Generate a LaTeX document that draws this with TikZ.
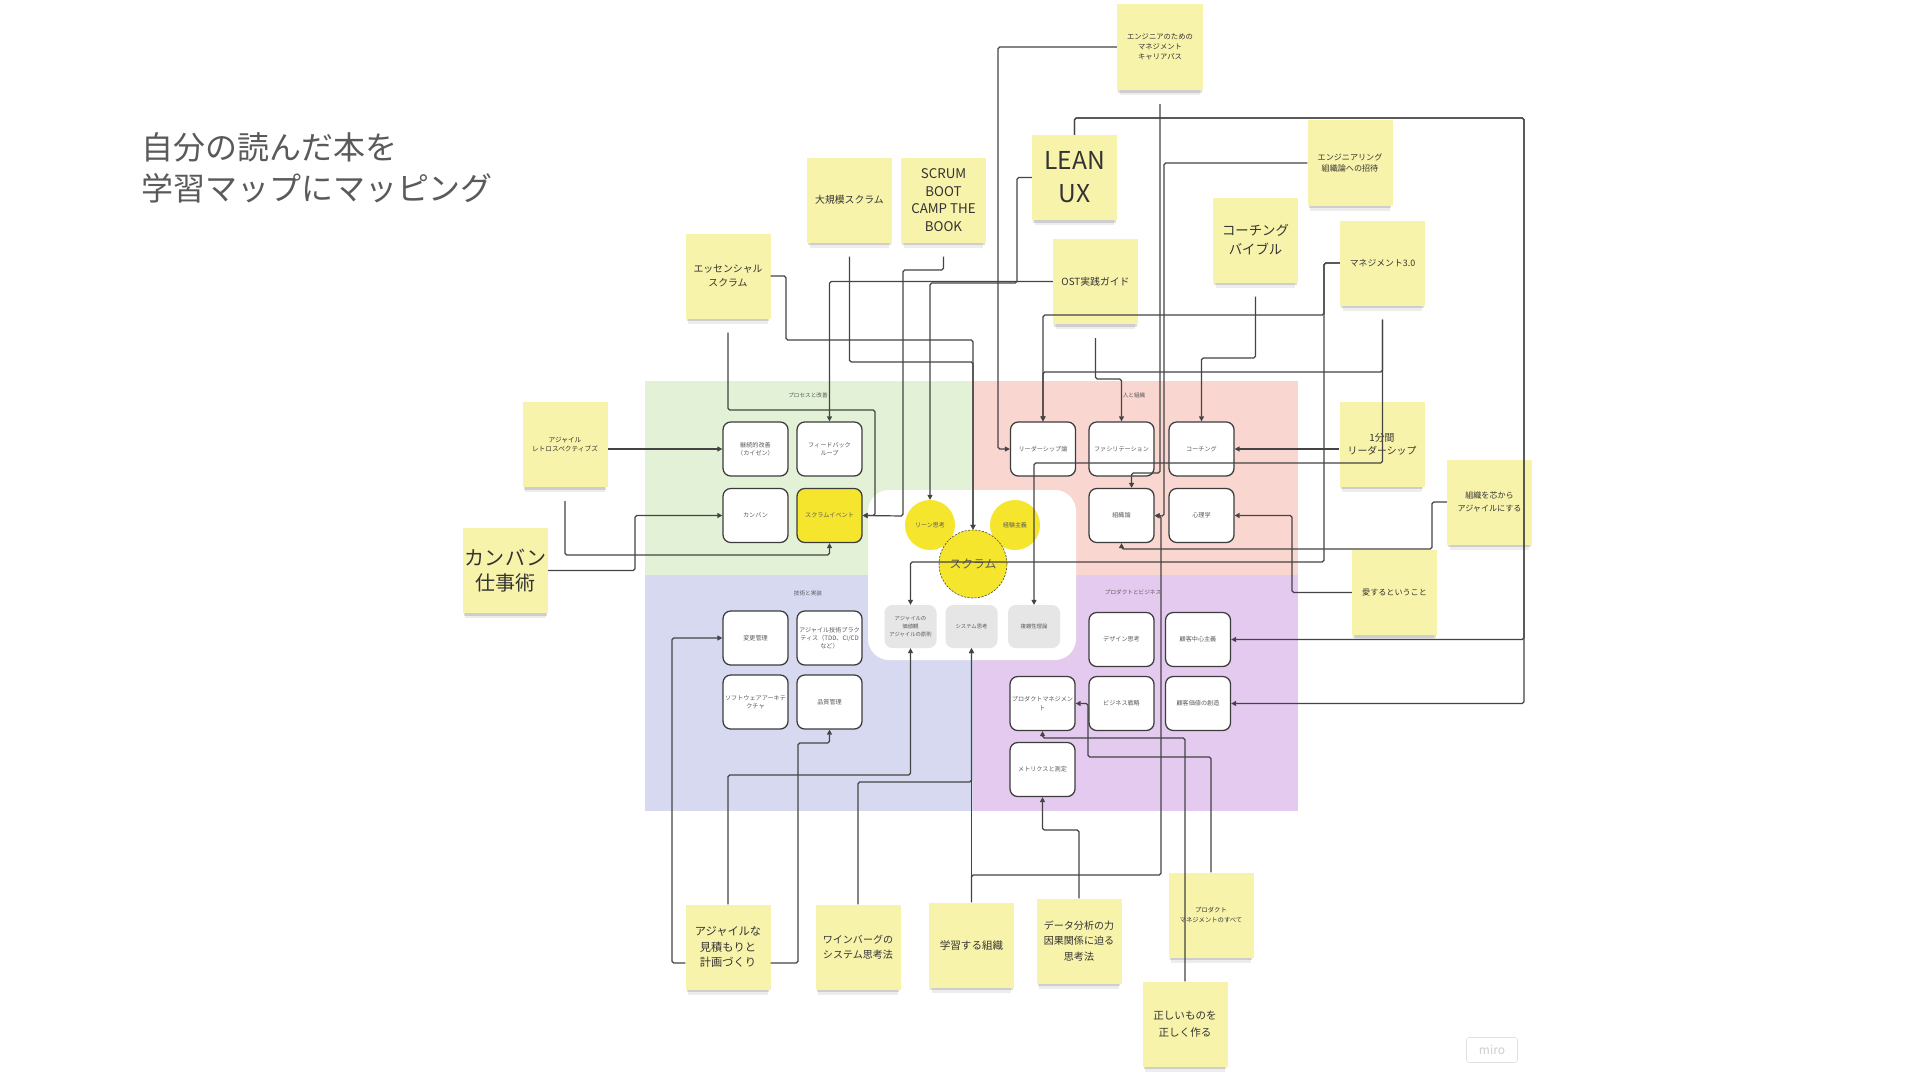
\documentclass[tikz,border=0pt]{standalone}
\usepackage{fontspec}
\setmainfont{Noto Sans CJK JP}
\usetikzlibrary{arrows.meta,shadows}

\definecolor{stickyfill}{HTML}{F8F3AA}
\definecolor{stickytext}{HTML}{333333}
\definecolor{greenzone}{HTML}{E3F1D6}
\definecolor{redzone}{HTML}{F9D6D0}
\definecolor{bluezone}{HTML}{D7D9F0}
\definecolor{purplezone}{HTML}{E4CAEE}
\definecolor{topicyellow}{HTML}{F5E52C}
\definecolor{linegrey}{HTML}{444444}
\definecolor{boxline}{HTML}{3C3C3C}
\definecolor{boxtext}{HTML}{5A5A5A}
\definecolor{greybox}{HTML}{E6E6E6}
\definecolor{titlegrey}{HTML}{5A5A5A}

\begin{document}
\begin{tikzpicture}[x=0.5mm,y=-0.5mm,
    conn/.style={draw=linegrey, line width=1.7pt, rounded corners=2.5pt, -{Triangle[length=7pt,width=7pt]}},
    offshadow/.style={shorten <=20pt},
    box/.style={draw=boxline, line width=1.8pt, fill=white, rounded corners=11pt, minimum width=32.5mm, minimum height=27mm, inner sep=1pt, align=center, text=boxtext, font=\fontsize{8.7}{11.5}\selectfont},
    corebox/.style={fill=greybox, rounded corners=11pt, minimum width=26mm, minimum height=21.5mm, inner sep=1pt, align=center, text=boxtext, font=\fontsize{7.6}{11}\selectfont},
    topic/.style={circle, fill=topicyellow, minimum size=25mm, inner sep=0pt, text=boxtext, font=\fontsize{8.5}{10}\selectfont},
    zonelabel/.style={text=boxtext, font=\fontsize{8}{10}\selectfont},
    sticky/.style={fill=stickyfill, minimum width=42.5mm, minimum height=42.5mm, inner sep=1mm, align=center, text=stickytext,
        general shadow={fill=black, opacity=.07, shadow yshift=-12pt, shadow scale=.94},
        general shadow={fill=black, opacity=.13, shadow yshift=-6pt, shadow scale=.97}}
]
    % Page and background
    \useasboundingbox (0,0) rectangle (1920,1080);
    \fill[white] (0,0) rectangle (1920,1080);

    % Title
    \node[anchor=west, inner sep=0pt, align=left, text=titlegrey, font=\fontsize{45.5}{58}\selectfont] (title) at (141,168) {自分の読んだ本を\\学習マップにマッピング};

    % Four zones of the map
    \fill[greenzone] (645,381) rectangle (973,575);
    \fill[redzone] (973,381) rectangle (1298,575);
    \fill[bluezone] (645,575) rectangle (973,811);
    \fill[purplezone] (973,575) rectangle (1298,811);
    \fill[white, rounded corners=30pt] (868,490) rectangle (1076,660);

    % Zone names
    \node[zonelabel] (processlbl) at (808,395) {プロセスと改善};
    \node[zonelabel] (peoplelbl) at (1134,395) {人と組織};
    \node[zonelabel] (techlbl) at (808,593) {技術と実装};
    \node[zonelabel] (productlbl) at (1133,592) {プロダクトとビジネス};

    % Process and improvement
    \node[box] (kaizen) at (755.5,449) {継続的改善\\（カイゼン）};
    \node[box] (feedback) at (829.5,449) {フィードバック\\ループ};
    \node[box] (kanban) at (755.5,515.5) {カンバン};
    \node[box, fill=topicyellow] (scrumevent) at (829.5,515.5) {スクラムイベント};

    % People and organisation
    \node[box] (leadership) at (1043,449) {リーダーシップ論};
    \node[box] (facil) at (1121.5,449) {ファシリテーション};
    \node[box] (coaching) at (1201.5,449) {コーチング};
    \node[box] (orgtheory) at (1121.5,515.5) {組織論};
    \node[box] (psych) at (1201.5,515.5) {心理学};

    % Technology and implementation
    \node[box] (changemgmt) at (755.5,638) {変更管理};
    \node[box] (agiletech) at (829.5,638) {アジャイル技術プラク\\ティス（TDD、CI/CD\\など）};
    \node[box] (softarch) at (755.5,702) {ソフトウェアアーキテ\\クチャ};
    \node[box] (quality) at (829.5,702) {品質管理};

    % Product and business
    \node[box] (design) at (1121.5,639.5) {デザイン思考};
    \node[box] (custcentric) at (1198,639.5) {顧客中心主義};
    \node[box] (prodmgmt) at (1042.5,703.5) {プロダクトマネジメン\\ト};
    \node[box] (bizstrat) at (1121.5,703.5) {ビジネス戦略};
    \node[box] (custvalue) at (1198,703.5) {顧客価値の創造};
    \node[box] (metrics) at (1042.5,769.5) {メトリクスと測定};

    % Core in the middle
    \node[topic] (lean) at (930,525) {リーン思考};
    \node[topic] (empirical) at (1015,525) {経験主義};
    \node[topic, minimum size=34mm, draw=boxline, densely dashed, line width=.8pt, font=\fontsize{16.8}{18}\selectfont] (scrum) at (973,564) {スクラム};
    \node[corebox] (values) at (910.5,626.5) {アジャイルの\\価値観\\アジャイルの原則};
    \node[corebox] (systhink) at (971.5,626.5) {システム思考};
    \node[corebox] (complexity) at (1034,626.5) {複雑性理論};

    % Books (sticky notes)
    \node[sticky, minimum width=43mm, minimum height=43mm, font=\fontsize{10.4}{14.2}\selectfont] (careerpath) at (1160,47) {エンジニアのための\\マネジメント\\キャリアパス};
    \node[sticky, font=\fontsize{35}{47}\selectfont] (leanux) at (1074.5,177.5) {LEAN\\UX};
    \node[sticky, font=\fontsize{14}{20}\selectfont] (largescale) at (849.5,200) {大規模スクラム};
    \node[sticky, font=\fontsize{19}{25}\selectfont] (bootcamp) at (943.5,200) {SCRUM\\BOOT\\CAMP THE\\BOOK};
    \node[sticky, font=\fontsize{14}{21}\selectfont] (essential) at (728,276) {エッセンシャル\\スクラム};
    \node[sticky, font=\fontsize{14}{20}\selectfont] (ost) at (1095.5,281.5) {OST実践ガイド};
    \node[sticky, font=\fontsize{11.5}{16}\selectfont] (engorg) at (1350,163) {エンジニアリング\\組織論への招待};
    \node[sticky, font=\fontsize{19}{27}\selectfont] (coachbible) at (1255.5,240) {コーチング\\バイブル};
    \node[sticky, font=\fontsize{12.6}{16}\selectfont] (mgmt30) at (1382.5,263) {マネジメント3.0};
    \node[sticky, font=\fontsize{14}{19}\selectfont] (oneminute) at (1382,444) {1分間\\リーダーシップ};
    \node[sticky, font=\fontsize{11.5}{17.5}\selectfont] (orgagile) at (1489.5,502) {組織を芯から\\アジャイルにする};
    \node[sticky, font=\fontsize{11.5}{16}\selectfont] (love) at (1394.5,592.5) {愛するということ};
    \node[sticky, font=\fontsize{9.5}{13}\selectfont] (retro) at (565,444.5) {アジャイル\\レトロスペクティブズ};
    \node[sticky, font=\fontsize{28.5}{36}\selectfont] (kanbanbook) at (505.5,570.5) {カンバン\\仕事術};
    \node[sticky, font=\fontsize{16}{22}\selectfont] (estimate) at (728,947) {アジャイルな\\見積もりと\\計画づくり};
    \node[sticky, font=\fontsize{14.3}{20.6}\selectfont] (weinberg) at (858,947) {ワインバーグの\\システム思考法};
    \node[sticky, font=\fontsize{15}{20}\selectfont] (learningorg) at (971.5,945) {学習する組織};
    \node[sticky, font=\fontsize{14.3}{22}\selectfont] (dataanalysis) at (1079,941) {データ分析の力\\因果関係に迫る\\思考法};
    \node[sticky, font=\fontsize{9}{13.6}\selectfont] (pmall) at (1211,915) {プロダクト\\マネジメントのすべて};
    \node[sticky, font=\fontsize{15}{25}\selectfont] (rightthing) at (1185,1024) {正しいものを\\正しく作る};

    % Links from books to topics
    \draw[conn] (retro.east |- kaizen.west) -- (kaizen.west);
    \draw[conn,offshadow] (retro.south) -- (retro.south |- 0,555) -| (scrumevent.south);
    \draw[conn] (kanbanbook.east) -- (kanbanbook.east -| 635,0) |- (kanban.west);
    \draw[conn,offshadow] (essential.south) -- (essential.south |- 0,410) -- (875,410) |- (scrumevent.east);
    \draw[conn] (essential.east) -| (786,340) -| (scrum.north);
    \draw[conn,offshadow] (largescale.south) -- (largescale.south |- 0,362) -| (scrum.north);
    \draw[conn,offshadow] (bootcamp.south) -- (bootcamp.south |- 0,270) -| (903,516) -- (scrumevent.east);
    \draw[conn] (ost.west) -| (feedback.north);
    \draw[conn,offshadow] (ost.south) -- (ost.south |- 0,379) -| (facil.north);
    \draw[conn] (leanux.west) -| (1017,283) -| (lean.north);
    \draw[conn] (leanux.north) -- (leanux.north |- 0,118) -| (1524,639.5) -- (custcentric.east);
    \draw[conn] (leanux.north) -- (leanux.north |- 0,118) -| (1524,703.5) -- (custvalue.east);
    \draw[conn] (careerpath.west) -| (998,449) -- (leadership.west);
    \draw[conn,offshadow] (careerpath.south) -- (careerpath.south |- 0,473) -| (orgtheory.70);
    \draw[conn] (engorg.west) -| (1164,516) -- (orgtheory.east);
    \draw[conn] (mgmt30.west) -| (1324,562) -| (values.north);
    \draw[conn] (mgmt30.west) -| (1324,315) -| (leadership.north);
    \draw[conn,offshadow] (mgmt30.south) -- (mgmt30.south |- 0,372) -| (leadership.north);
    \draw[conn,offshadow] (mgmt30.south) -- (mgmt30.south |- 0,463) -| (complexity.north);
    \draw[conn,offshadow] (coachbible.south) -- (coachbible.south |- 0,358) -| (coaching.north);
    \draw[conn] (oneminute.west |- coaching.east) -- (coaching.east);
    \draw[conn] (orgagile.west) -| (1432,549) -| (orgtheory.south);
    \draw[conn] (love.west) -| (1292,515.5) -- (psych.east);
    \draw[conn] (estimate.north) -- (estimate.north |- 0,775) -| (values.south);
    \draw[conn] (estimate.east |- 0,963) -| (798,743) -| (quality.south);
    \draw[conn] (estimate.west |- 0,963) -| (672,638) -- (changemgmt.west);
    \draw[conn] (weinberg.north) -- (weinberg.north |- 0,782) -| (systhink.south);
    \draw[conn] (learningorg.north) -- (systhink.south);
    \draw[conn] (learningorg.north) -- (learningorg.north |- 0,875) -| (1161,516) -- (orgtheory.east);
    \draw[conn] (dataanalysis.north) -- (dataanalysis.north |- 0,830) -| (metrics.south);
    \draw[conn] (rightthing.north) -- (rightthing.north |- 0,738) -| (prodmgmt.south);
    \draw[conn] (pmall.north) -- (pmall.north |- 0,757) -| (1088,703.5) -- (prodmgmt.east);

    % Board watermark
    \node[draw=gray!25, line width=.8pt, rounded corners=4pt, text=gray!40, minimum width=25.5mm, minimum height=12.5mm, inner sep=0pt, font=\fontsize{17}{17}\selectfont] (miro) at (1492,1050) {miro};
\end{tikzpicture}
\end{document}
